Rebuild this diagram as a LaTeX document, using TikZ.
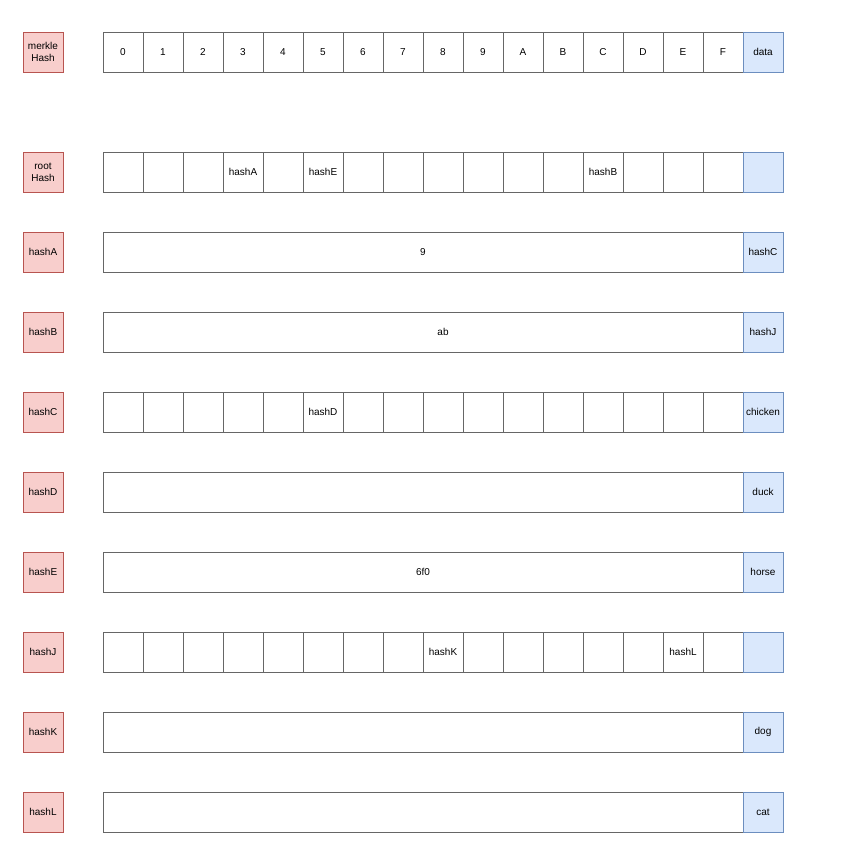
\documentclass[tikz,border=0pt]{standalone}
\usepackage{fontspec}
\setmainfont{Liberation Sans}
\definecolor{redfill}{HTML}{F8CECC}
\definecolor{redline}{HTML}{B85450}
\definecolor{bluefill}{HTML}{DAE8FC}
\definecolor{blueline}{HTML}{6C8EBF}
\definecolor{cellline}{HTML}{666666}
\tikzset{
  x=1pt,y=-1pt,
  lbl/.style={draw=redline,fill=redfill,line width=0.9pt,minimum width=40pt,minimum height=40pt,inner sep=0pt,align=center,font=\fontsize{10}{12}\selectfont},
  cellbox/.style={draw=cellline,fill=white,line width=0.9pt,minimum width=40pt,minimum height=40pt,inner sep=0pt,font=\fontsize{10}{12}\selectfont},
  widebox/.style={draw=cellline,fill=white,line width=0.9pt,minimum width=640pt,minimum height=40pt,inner sep=0pt,font=\fontsize{10}{12}\selectfont},
  databox/.style={draw=blueline,fill=bluefill,line width=0.9pt,minimum width=40pt,minimum height=40pt,inner sep=0pt,font=\fontsize{10}{12}\selectfont},
  txt/.style={inner sep=0pt,font=\fontsize{10}{12}\selectfont}
}
\newcommand{\cellrow}[4]{%
  \foreach \i/\t in {#3} {
    \node[cellbox] (#1c\i) at ({123+40*\i},#2) {\t};
  }
  \node[databox] (#1d) at (763,#2) {#4};
}
\begin{document}
\begin{tikzpicture}
\useasboundingbox (0,0) rectangle (842,855);
% row 1
\node[lbl] (merkle) at (43,52) {merkle\\Hash};
\cellrow{r1}{52}{0/0,1/1,2/2,3/3,4/4,5/5,6/6,7/7,8/8,9/9,10/A,11/B,12/C,13/D,14/E,15/F}{data}
% row 2
\node[lbl] (root) at (43,172) {root\\Hash};
\cellrow{r2}{172}{0/,1/,2/,3/hashA,4/,5/hashE,6/,7/,8/,9/,10/,11/,12/hashB,13/,14/,15/}{}
% row 3
\node[lbl] (hA) at (43,252) {hashA};
\node[widebox] (hAw) at (423,252) {};
\node[txt] (hAt) at (423,252) {9};
\node[databox] (hAd) at (763,252) {hashC};
% row 4
\node[lbl] (hB) at (43,332) {hashB};
\node[widebox] (hBw) at (423,332) {};
\node[txt] (hBt) at (443,332) {ab};
\node[databox] (hBd) at (763,332) {hashJ};
% row 5
\node[lbl] (hC) at (43,412) {hashC};
\cellrow{r5}{412}{0/,1/,2/,3/,4/,5/hashD,6/,7/,8/,9/,10/,11/,12/,13/,14/,15/}{chicken}
% row 6
\node[lbl] (hD) at (43,492) {hashD};
\node[widebox] (hDw) at (423,492) {};
\node[databox] (hDd) at (763,492) {duck};
% row 7
\node[lbl] (hE) at (43,572) {hashE};
\node[widebox] (hEw) at (423,572) {};
\node[txt] (hEt) at (423,572) {6f0};
\node[databox] (hEd) at (763,572) {horse};
% row 8
\node[lbl] (hJ) at (43,652) {hashJ};
\cellrow{r8}{652}{0/,1/,2/,3/,4/,5/,6/,7/,8/hashK,9/,10/,11/,12/,13/,14/hashL,15/}{}
% row 9
\node[lbl] (hK) at (43,732) {hashK};
\node[widebox] (hKw) at (423,732) {};
\node[databox] (hKd) at (763,732) {dog};
% row 10
\node[lbl] (hL) at (43,812) {hashL};
\node[widebox] (hLw) at (423,812) {};
\node[databox] (hLd) at (763,812) {cat};
\end{tikzpicture}
\end{document}
